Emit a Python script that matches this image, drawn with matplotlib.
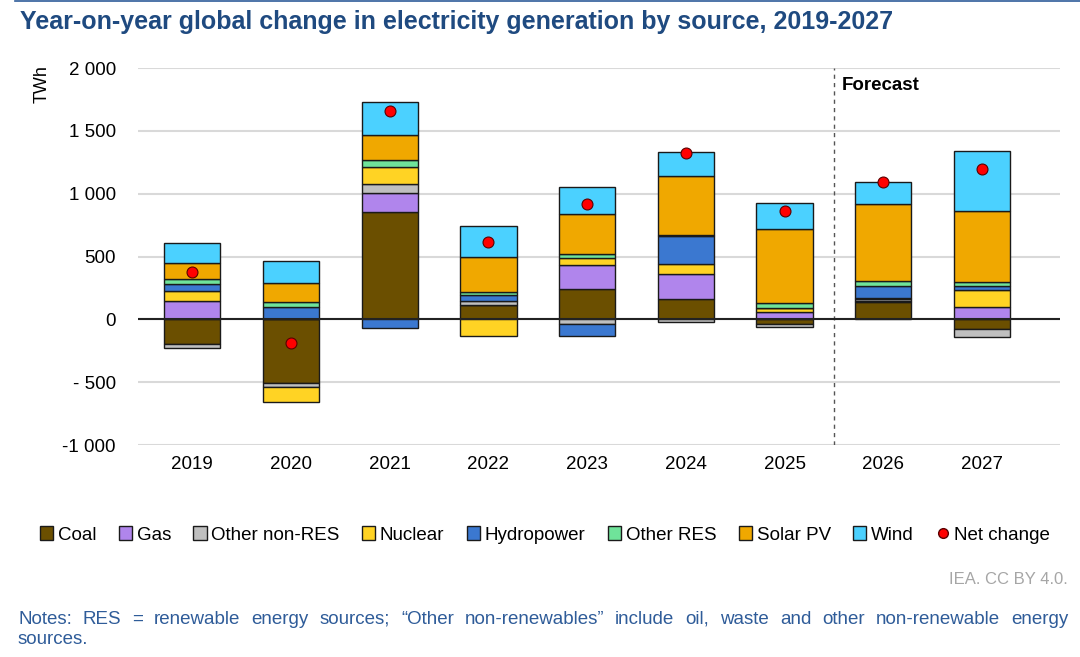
import numpy as np
import matplotlib
matplotlib.use("Agg")
import matplotlib.pyplot as plt
from matplotlib.lines import Line2D
from matplotlib.patches import Patch

plt.rcParams["font.family"] = ["Liberation Sans", "DejaVu Sans"]

years = ["2019", "2020", "2021", "2022", "2023", "2024", "2025", "2026", "2027"]

# TWh change per source
coal = [-199, -505, 853, 114, 244, 159, -40, 141, -80]
gas = [149, 0, 151, 0, 191, 202, 58, 8, 101]
other_nonres = [-27, -37, 74, 35, -35, -18, -20, 10, -58]
nuclear = [80, -112, 133, -133, 56, 80, 30, 10, 130]
hydro = [53, 96, -69, 48, -98, 223, 6, 93, 35]
other_res = [35, 43, 53, 24, 29, 10, 35, 40, 35]
solar = [130, 149, 199, 274, 319, 467, 593, 616, 563]
wind = [160, 173, 266, 245, 215, 194, 205, 173, 478]
net_change = [379, -191, 1660, 614, 919, 1323, 861, 1094, 1197]

sources = ["Coal", "Gas", "Other non-RES", "Nuclear", "Hydropower",
           "Other RES", "Solar PV", "Wind"]
series = [coal, gas, other_nonres, nuclear, hydro, other_res, solar, wind]
colors = ["#6b4f00", "#b085ec", "#bfbfbf", "#ffd324", "#3b78d0",
          "#6fe39a", "#f0a800", "#4bd1ff"]

yticks = [-1000, -500, 0, 500, 1000, 1500, 2000]
ytick_labels = ["-1 000", "- 500", "0", "500", "1 000", "1 500", "2 000"]

notes_line1 = ("Notes: RES = renewable energy sources; \u201cOther non-renewables\u201d "
               "include oil, waste and other non-renewable energy")
notes_line2 = "sources."

fig = plt.figure(figsize=(10.8, 6.57), dpi=100)
ax = fig.add_axes([138 / 1080, 1 - 445 / 657, (1060 - 138) / 1080, (445 - 68) / 657])

x = np.arange(len(years))
pos_base = np.zeros(len(years))
neg_base = np.zeros(len(years))
for name, vals, col in zip(sources, series, colors):
    vals = np.array(vals, dtype=float)
    bottoms = np.where(vals >= 0, pos_base, neg_base)
    ax.bar(x, vals, bottom=bottoms, width=0.57, color=col,
           edgecolor="#1a1a1a", linewidth=1.0, zorder=3, label=name)
    pos_base += np.where(vals > 0, vals, 0)
    neg_base += np.where(vals < 0, vals, 0)

ax.scatter(x, net_change, s=62, color="#ff0000", edgecolor="#5a0000",
           linewidth=0.8, zorder=5)

ax.axhline(0, color="#222222", linewidth=1.5, zorder=4)
ax.axvline(6.5, color="#555555", linewidth=1.0, linestyle=(0, (3, 3)), zorder=2)
ax.text(6.58, 1860, "Forecast", fontsize=13.5, fontweight="bold",
        ha="left", va="center")

ax.set_xlim(-0.55, 8.79)
ax.set_ylim(-1000, 2000)
ax.set_yticks(yticks)
ax.set_yticklabels(ytick_labels)
ax.set_xticks(x)
ax.set_xticklabels(years)
ax.tick_params(axis="both", length=0, labelsize=13.5)
ax.tick_params(axis="y", pad=16)
ax.tick_params(axis="x", pad=8)
ax.grid(axis="y", color="#d9d9d9", linewidth=1.5, zorder=0)
ax.set_axisbelow(True)
for sp in ax.spines.values():
    sp.set_visible(False)

fig.text(42 / 1080, 1 - 84 / 657, "TWh", rotation=90, fontsize=13,
         ha="center", va="center")

handles = [Patch(facecolor=c, edgecolor="#1a1a1a", linewidth=1.0, label=n)
           for n, c in zip(sources, colors)]
handles.append(Line2D([], [], marker="o", linestyle="none", markersize=7,
                      markerfacecolor="#ff0000", markeredgecolor="#5a0000",
                      label="Net change"))
fig.legend(handles=handles, loc="center", bbox_to_anchor=(545 / 1080, 1 - 535 / 657),
           ncol=9, frameon=False, fontsize=13.5, handlelength=0.7,
           handleheight=0.7, handletextpad=0.25, columnspacing=1.2)

fig.text(20 / 1080, 1 - 22 / 657,
         "Year-on-year global change in electricity generation by source, 2019-2027",
         fontsize=18, fontweight="bold", color="#1f4a80", ha="left", va="center")
fig.add_artist(Line2D([15 / 1080, 1], [0.999, 0.999], color="#2f5c99", linewidth=1.2))

fig.text(1068 / 1080, 1 - 580 / 657, "IEA. CC BY 4.0.", fontsize=12,
         color="#a6a6a6", ha="right", va="center")

# justified first line of the notes, like the source
note_color = "#2f5c99"
renderer = fig.canvas.get_renderer()
words = notes_line1.split(" ")
word_texts = [fig.text(0, 1 - 619 / 657, w, fontsize=13.5, color=note_color,
                       ha="left", va="center") for w in words]
widths = [t.get_window_extent(renderer).width for t in word_texts]
left_px, right_px = 18, 1068
gap = (right_px - left_px - sum(widths)) / (len(words) - 1)
cur = left_px
for t, w in zip(word_texts, widths):
    t.set_x(cur / 1080)
    cur += w + gap
fig.text(18 / 1080, 1 - 640 / 657, notes_line2, fontsize=13.5, color=note_color,
         ha="left", va="center")

fig.savefig("out.png", dpi=100)
